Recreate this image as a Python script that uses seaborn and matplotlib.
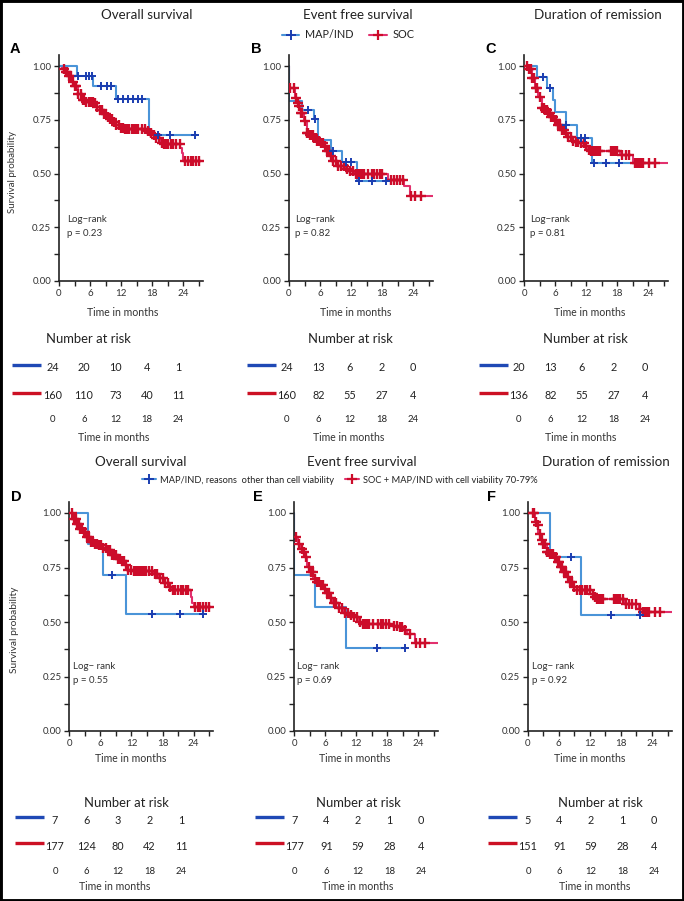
import numpy as np
import pandas as pd
import matplotlib.pyplot as plt
import seaborn as sns
from matplotlib.lines import Line2D
from matplotlib.patches import Rectangle

sns.set_style("ticks")
plt.rcParams['font.family'] = ['Lato', 'DejaVu Sans']

# ---------------- data ----------------
risk_times = [0, 6, 12, 18, 24]

# A - overall survival, MAP/IND vs SOC
a_blue_t = [0, 3.5, 6.6, 11.0, 17.4, 26.6]
a_blue_s = [1.0, 0.955, 0.906, 0.847, 0.678, 0.678]
a_blue_cens = [3.7, 5.2, 5.8, 6.4, 8.2, 9.2, 10.1, 11.4, 12.4, 13.4, 14.3, 15.3, 16.1, 19.2, 21.4, 26.3]
a_red_t = [0, 0.6, 1.1, 1.7, 2.4, 3.0, 3.7, 4.3, 5.0, 6.6, 7.2, 7.9, 8.5, 9.2, 9.8, 10.5, 11.1, 11.7,
           12.7, 16.9, 17.5, 18.2, 18.8, 19.5, 20.1, 23.4, 23.7, 23.9, 28.0]
a_red_s = [1.0, 0.985, 0.972, 0.952, 0.926, 0.906, 0.872, 0.844, 0.833, 0.826, 0.807, 0.795, 0.779, 0.761,
           0.752, 0.741, 0.725, 0.713, 0.705, 0.699, 0.687, 0.679, 0.664, 0.644, 0.637, 0.617, 0.594, 0.556, 0.556]
a_red_cens = [0.9, 1.3, 1.6, 2.0, 2.3, 2.7, 3.0, 3.3, 3.7, 4.2, 4.6, 4.9, 5.3, 5.7, 6.1, 6.5, 7.0, 7.4, 7.9,
              8.3, 8.7, 9.1, 9.5, 9.9, 10.3, 10.7, 11.1, 11.5, 11.9, 12.4, 12.8, 13.2, 13.6, 14.0, 14.4, 14.8,
              15.3, 16.0, 16.6, 17.2, 17.7, 18.3, 18.8, 19.4, 19.9, 20.3, 20.7, 21.1, 21.6, 22.1, 22.5, 23.3,
              24.4, 24.9, 25.4, 25.9, 26.4, 27.0]
a_risk_blue = [24, 20, 10, 4, 1]
a_risk_red = [160, 110, 73, 40, 11]

# B - event free survival
b_blue_t = [0, 0.05, 2.6, 4.9, 5.6, 8.2, 10.3, 13.2, 19.1]
b_blue_s = [1.0, 0.835, 0.796, 0.755, 0.657, 0.603, 0.554, 0.465, 0.465]
b_blue_cens = [3.6, 5.1, 8.4, 11.1, 11.9, 13.6, 16.0, 18.8]
b_red_t = [0, 0.05, 1.15, 1.7, 1.9, 2.3, 2.8, 3.4, 4.0, 4.7, 5.3, 6.0, 6.6, 7.2, 7.9, 8.5, 9.5, 10.8,
           11.7, 12.7, 19.1, 22.2, 23.3, 28.0]
b_red_s = [1.0, 0.897, 0.850, 0.827, 0.812, 0.781, 0.742, 0.688, 0.681, 0.665, 0.653, 0.642, 0.627, 0.603,
           0.580, 0.557, 0.534, 0.519, 0.511, 0.498, 0.468, 0.441, 0.395, 0.395]
b_red_cens = [0.2, 1.0, 1.4, 1.7, 2.0, 2.3, 2.6, 3.1, 3.4, 3.7, 4.0, 4.3, 4.6, 4.9, 5.2, 5.5, 5.8, 6.1, 6.5,
              6.9, 7.3, 7.7, 8.1, 8.5, 9.0, 9.5, 10.0, 10.6, 11.2, 11.8, 12.4, 12.9, 13.3, 13.6, 13.9, 14.2,
              14.5, 15.2, 16.0, 16.5, 17.0, 17.5, 17.9, 19.6, 20.3, 20.9, 21.4, 22.0, 23.6, 24.3, 25.4]
b_risk_blue = [24, 13, 6, 2, 0]
b_risk_red = [160, 82, 55, 27, 4]

# C - duration of remission
c_blue_t = [0, 2.5, 4.4, 5.6, 5.9, 8.1, 10.2, 13.1, 21.1]
c_blue_s = [1.0, 0.947, 0.900, 0.842, 0.788, 0.726, 0.664, 0.550, 0.550]
c_blue_cens = [3.6, 5.1, 8.2, 11.0, 11.8, 13.5, 15.9, 18.3]
c_red_t = [0, 0.8, 1.5, 2.1, 2.7, 3.4, 4.0, 4.6, 5.3, 5.9, 6.5, 7.2, 7.8, 8.4, 9.1, 10.0, 11.0, 11.6,
           12.3, 12.9, 18.6, 21.1, 28.0]
c_red_s = [1.0, 0.985, 0.943, 0.896, 0.857, 0.803, 0.795, 0.780, 0.764, 0.749, 0.726, 0.702, 0.687, 0.671,
           0.651, 0.645, 0.640, 0.629, 0.609, 0.605, 0.586, 0.550, 0.550]
c_red_cens = [0.5, 0.9, 1.3, 1.6, 2.0, 2.3, 2.6, 3.0, 3.5, 3.8, 4.1, 4.4, 4.7, 5.0, 5.3, 5.6, 5.9, 6.2, 6.5,
              6.9, 7.3, 7.7, 8.1, 8.5, 9.0, 9.5, 10.0, 10.5, 11.0, 11.5, 12.0, 12.6, 13.0, 13.3, 13.6, 13.9,
              14.2, 14.6, 16.8, 17.2, 17.6, 18.0, 19.0, 19.6, 20.3, 21.4, 21.8, 22.2, 22.6, 23.0, 24.2, 25.2]
c_risk_blue = [20, 13, 6, 2, 0]
c_risk_red = [136, 82, 55, 27, 4]

# D - overall survival, second comparison
d_blue_t = [0, 3.55, 6.45, 10.9, 26.1]
d_blue_s = [1.0, 0.857, 0.714, 0.536, 0.536]
d_blue_cens = [8.2, 15.9, 21.4, 25.8]
d_red_t = [0, 0.77, 1.42, 2.06, 2.71, 3.35, 4.0, 4.65, 5.6, 6.26, 7.2, 8.2, 9.16, 10.1, 10.8, 11.4, 12.4,
           16.3, 17.2, 18.2, 19.2, 19.8, 23.4, 23.7, 24.0, 28.0]
d_red_s = [1.0, 0.974, 0.951, 0.928, 0.913, 0.890, 0.867, 0.856, 0.852, 0.841, 0.829, 0.806, 0.791, 0.779,
           0.760, 0.740, 0.734, 0.719, 0.704, 0.679, 0.661, 0.649, 0.615, 0.585, 0.569, 0.569]
d_red_cens = [0.5, 0.9, 1.2, 1.5, 1.8, 2.1, 2.4, 2.8, 3.1, 3.4, 3.8, 4.2, 4.6, 5.0, 5.4, 5.8, 6.2, 6.6, 7.0,
              7.4, 7.8, 8.2, 8.6, 9.0, 9.4, 9.8, 10.2, 10.6, 11.0, 11.4, 11.9, 12.4, 12.8, 13.2, 13.6, 14.0,
              14.4, 14.8, 15.3, 16.0, 16.5, 17.0, 17.5, 18.0, 18.5, 19.0, 19.5, 20.0, 20.5, 21.0, 21.5, 22.0,
              22.5, 23.0, 24.3, 24.8, 25.3, 25.8, 26.3, 26.9]
d_risk_blue = [7, 6, 3, 2, 1]
d_risk_red = [177, 124, 80, 42, 11]

# E - event free survival, second comparison
e_blue_t = [0, 0.05, 4.1, 10.1, 21.7]
e_blue_s = [1.0, 0.714, 0.571, 0.381, 0.381]
e_blue_cens = [16.0, 21.5]
e_red_t = [0, 0.05, 0.84, 1.35, 1.8, 2.1, 2.45, 3.1, 3.74, 4.4, 5.0, 5.7, 6.3, 7.0, 7.6, 8.6, 9.5, 10.5,
           11.5, 12.5, 13.1, 19.2, 20.2, 21.2, 21.8, 23.3, 28.0]
e_red_s = [1.0, 0.89, 0.86, 0.837, 0.821, 0.798, 0.753, 0.730, 0.699, 0.684, 0.669, 0.653, 0.631, 0.608,
           0.585, 0.562, 0.542, 0.531, 0.521, 0.501, 0.493, 0.481, 0.475, 0.463, 0.444, 0.402, 0.402]
e_red_cens = [0.3, 1.0, 1.5, 1.9, 2.4, 2.8, 3.2, 3.6, 4.0, 4.4, 4.8, 5.2, 5.6, 6.0, 6.4, 6.8, 7.2, 7.7, 8.2,
              8.7, 9.2, 9.8, 10.4, 11.0, 11.6, 12.2, 12.8, 13.3, 13.7, 14.1, 14.5, 15.3, 16.2, 16.7, 17.2,
              17.8, 18.3, 19.4, 19.9, 20.4, 20.9, 21.5, 22.4, 23.5, 24.4, 25.3]
e_risk_blue = [7, 4, 2, 1, 0]
e_risk_red = [177, 91, 59, 28, 4]

# F - duration of remission, second comparison
f_blue_t = [0, 4.3, 10.3, 21.8]
f_blue_s = [1.0, 0.8, 0.533, 0.533]
f_blue_cens = [8.3, 16.1, 21.6]
f_red_t = [0, 1.4, 1.9, 2.06, 2.5, 3.0, 3.7, 4.3, 5.0, 5.6, 6.3, 6.9, 7.5, 8.2, 8.8, 9.5, 12.1, 12.7,
           13.4, 18.8, 21.4, 21.7, 28.0]
f_red_s = [1.0, 0.959, 0.943, 0.905, 0.875, 0.859, 0.821, 0.813, 0.798, 0.775, 0.752, 0.729, 0.706, 0.683,
           0.660, 0.648, 0.630, 0.615, 0.607, 0.584, 0.561, 0.546, 0.546]
f_red_cens = [1.0, 1.3, 1.6, 2.0, 2.3, 2.7, 3.0, 3.4, 3.7, 4.0, 4.3, 4.6, 4.9, 5.2, 5.5, 5.8, 6.1, 6.4, 6.7,
              7.0, 7.4, 7.8, 8.2, 8.6, 9.0, 9.5, 10.0, 10.5, 11.0, 11.5, 12.0, 12.6, 13.0, 13.4, 13.8, 14.2,
              14.6, 16.6, 17.0, 17.4, 17.8, 18.4, 19.0, 19.6, 20.2, 21.0, 21.6, 22.2, 22.6, 23.0, 23.5, 24.5,
              25.5]
f_risk_blue = [5, 4, 2, 1, 0]
f_risk_red = [151, 91, 59, 28, 4]

p_values = ['0.23', '0.82', '0.81', '0.55', '0.69', '0.92']

# ---------------- styling ----------------
blue_line = '#4a94d8'
blue_mark = '#1a3db0'
red_line = '#e2306e'
red_mark = '#cc0c2a'
blue_key = '#1f49b5'
red_key = '#cc1024'
txt = '#222222'

W, H = 684, 901
fig = plt.figure(figsize=(W / 100, H / 100), dpi=100)


def ptext(x, y, s, **kw):
    kw.setdefault('ha', 'center')
    kw.setdefault('va', 'center')
    kw.setdefault('color', txt)
    return fig.text(x / W, 1 - y / H, s, **kw)


def step_value(t, s, c):
    idx = np.searchsorted(t, c, side='right') - 1
    return np.asarray(s)[idx]


def km_panel(x0, y0, pxu, t_b, s_b, c_b, t_r, s_r, c_r, pval, logtxt):
    # x0, y0 = pixel position of (0, 0); pxu = pixels per unit of survival
    xmax = 27.8
    w = xmax * 5.18
    h = 1.05 * pxu
    ax = fig.add_axes([x0 / W, 1 - y0 / H, w / W, h / H])
    df_r = pd.DataFrame({'t': t_r, 's': s_r})
    df_b = pd.DataFrame({'t': t_b, 's': s_b})
    sns.lineplot(data=df_r, x='t', y='s', drawstyle='steps-post', color=red_line, lw=1.5,
                 sort=False, estimator=None, ax=ax)
    sns.lineplot(data=df_b, x='t', y='s', drawstyle='steps-post', color=blue_line, lw=1.5,
                 sort=False, estimator=None, ax=ax)
    sns.scatterplot(x=c_r, y=step_value(t_r, s_r, c_r), marker='+', s=42, color=red_mark,
                    linewidth=1.7, ax=ax, zorder=4)
    sns.scatterplot(x=c_b, y=step_value(t_b, s_b, c_b), marker='+', s=38, color=blue_mark,
                    linewidth=1.4, ax=ax, zorder=5)
    ax.set_xlim(0, xmax)
    ax.set_ylim(0, 1.05)
    ax.set_xticks(risk_times)
    ax.set_xticks([3, 9, 15, 21, 27], minor=True)
    ax.set_yticks([0, 0.25, 0.5, 0.75, 1.0])
    ax.set_yticklabels(['0.00', '0.25', '0.50', '0.75', '1.00'])
    ax.set_yticks([0.125, 0.375, 0.625, 0.875], minor=True)
    ax.tick_params(which='both', direction='out', length=3.5, width=1.0, color='#222222',
                   labelsize=7, labelcolor='#333333', pad=2)
    ax.set_xlabel('')
    ax.set_ylabel('')
    for sp in ['left', 'bottom']:
        ax.spines[sp].set_linewidth(1.2)
        ax.spines[sp].set_color('#222222')
    sns.despine(ax=ax)
    ax.text(logtxt[0], logtxt[1], logtxt[2], fontsize=7, color='#333333', va='center')
    ax.text(logtxt[0], logtxt[1] - 0.068, 'p = ' + pval, fontsize=7, color='#333333', va='center')
    return ax


def risk_table(x0, rows, blue_vals, red_vals):
    # x0 = pixel x of the month-0 column; rows = pixel y of blue, red and time rows
    left, right = x0 - 48, x0 + 150
    top, bot = rows[0] - 12, rows[2] + 10
    ax = fig.add_axes([left / W, 1 - bot / H, (right - left) / W, (bot - top) / H])
    ax.set_xlim(-48 / 5.25, 150 / 5.25)
    ax.set_ylim(bot, top)
    ax.axis('off')
    ax.plot([-7.7, -2.1], [rows[0] - 3] * 2, color=blue_key, lw=2.4, solid_capstyle='butt')
    ax.plot([-7.7, -2.1], [rows[1] - 3] * 2, color=red_key, lw=2.4, solid_capstyle='butt')
    for t, b, r in zip(risk_times, blue_vals, red_vals):
        ax.text(t, rows[0], str(b), ha='center', va='center', fontsize=7.8, color=txt)
        ax.text(t, rows[1], str(r), ha='center', va='center', fontsize=7.8, color=txt)
        ax.text(t, rows[2], str(t), ha='center', va='center', fontsize=6.9, color=txt)


# ---------------- top row ----------------
top_y0, top_u = 281, 215
km_panel(59, top_y0, top_u, a_blue_t, a_blue_s, a_blue_cens, a_red_t, a_red_s, a_red_cens,
         p_values[0], (1.5, 0.288, 'Log\u2212rank'))
km_panel(289, top_y0, top_u, b_blue_t, b_blue_s, b_blue_cens, b_red_t, b_red_s, b_red_cens,
         p_values[1], (1.2, 0.288, 'Log\u2212rank'))
km_panel(524, top_y0, top_u, c_blue_t, c_blue_s, c_blue_cens, c_red_t, c_red_s, c_red_cens,
         p_values[2], (1.2, 0.288, 'Log\u2212rank'))

ptext(147, 15, 'Overall survival', fontsize=9.6)
ptext(358, 15, 'Event free survival', fontsize=9.6)
ptext(598, 15, 'Duration of remission', fontsize=9.6)
for x, lab in [(15, 'A'), (256, 'B'), (491, 'C')]:
    ptext(x, 49, lab, fontsize=10.5, fontweight='bold', family=['Liberation Sans', 'DejaVu Sans'],
          color='black')
ptext(13, 172, 'Survival probability', rotation=90, fontsize=7, color='#333333')
for x in [123, 356, 590]:
    ptext(x, 313, 'Time in months', fontsize=7.6, color='#333333')

top_handles = [Line2D([], [], color=blue_line, lw=1.5, marker='+', markersize=7,
                      markeredgecolor=blue_mark, markeredgewidth=1.4),
               Line2D([], [], color=red_line, lw=1.5, marker='+', markersize=7,
                      markeredgecolor=red_mark, markeredgewidth=1.6)]
fig.legend(top_handles, ['MAP/IND', 'SOC'], loc='center', bbox_to_anchor=(348 / W, 1 - 35 / H),
           ncol=2, frameon=False, fontsize=7.8, handlelength=1.6, handletextpad=0.5,
           columnspacing=1.5, borderpad=0, labelcolor=txt)

# top risk tables
top_rows = (368, 396, 420)
risk_table(52.5, top_rows, a_risk_blue, a_risk_red)
risk_table(287, top_rows, b_risk_blue, b_risk_red)
risk_table(519, top_rows, c_risk_blue, c_risk_red)
for x in [88, 350, 585]:
    ptext(x, 339, 'Number at risk', fontsize=9.4)
for x in [114, 349, 581]:
    ptext(x, 437, 'Time in months', fontsize=7.6, color='#333333')

# ---------------- bottom row ----------------
bot_y0, bot_u = 731, 218
km_panel(69.3, bot_y0, bot_u, d_blue_t, d_blue_s, d_blue_cens, d_red_t, d_red_s, d_red_cens,
         p_values[3], (0.8, 0.298, 'Log\u2212 rank'))
km_panel(294, bot_y0, bot_u, e_blue_t, e_blue_s, e_blue_cens, e_red_t, e_red_s, e_red_cens,
         p_values[4], (0.6, 0.298, 'Log\u2212 rank'))
km_panel(527.7, bot_y0, bot_u, f_blue_t, f_blue_s, f_blue_cens, f_red_t, f_red_s, f_red_cens,
         p_values[5], (0.8, 0.298, 'Log\u2212 rank'))

ptext(141, 462, 'Overall survival', fontsize=9.6)
ptext(362, 462, 'Event free survival', fontsize=9.6)
ptext(606, 462, 'Duration of remission', fontsize=9.6)
for x, lab in [(16, 'D'), (258, 'E'), (492, 'F')]:
    ptext(x, 497, lab, fontsize=10.5, fontweight='bold', family=['Liberation Sans', 'DejaVu Sans'],
          color='black')
ptext(15, 630, 'Survival probability', rotation=90, fontsize=7.4, color='#333333')
for x in [131, 355, 590]:
    ptext(x, 759, 'Time in months', fontsize=7.6, color='#333333')

fig.legend(top_handles, ['MAP/IND, reasons  other than cell viability',
                         'SOC + MAP/IND with cell viability 70-79%'],
           loc='center', bbox_to_anchor=(340 / W, 1 - 480 / H), ncol=2, frameon=False,
           fontsize=6.7, handlelength=1.5, handletextpad=0.4, columnspacing=1.2, borderpad=0,
           labelcolor=txt)

bot_rows = (820, 846, 871)
risk_table(55, bot_rows, d_risk_blue, d_risk_red)
risk_table(295, bot_rows, e_risk_blue, e_risk_red)
risk_table(528, bot_rows, f_risk_blue, f_risk_red)
for x in [126, 358, 600]:
    ptext(x, 803, 'Number at risk', fontsize=9.4)
for x in [115, 358, 595]:
    ptext(x, 887, 'Time in months', fontsize=7.6, color='#333333')

# frame around the whole figure
fig.patches.append(Rectangle((0, 0), 1, 1, transform=fig.transFigure, fill=False,
                             lw=3.5, edgecolor='black'))

fig.savefig('out.png', dpi=100)
